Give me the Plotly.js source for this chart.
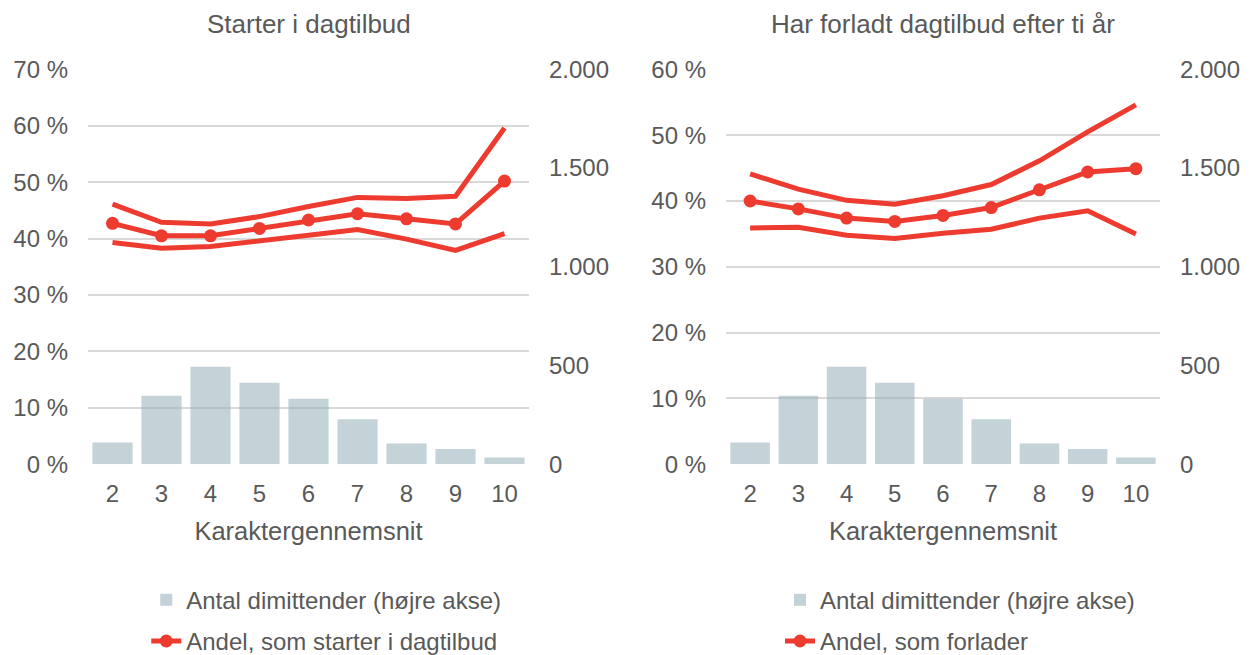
<!DOCTYPE html>
<html>
<head>
<meta charset="utf-8">
<script src="https://cdn.plot.ly/plotly-3.0.1.min.js"></script>
<style>html,body{margin:0;padding:0;background:#fff;}#chart{width:1250px;height:655px;}</style>
</head>
<body>
<div id="chart"></div>
<script>
// Data
const grades = [2, 3, 4, 5, 6, 7, 8, 9, 10];
const gradeLabels = ["2", "3", "4", "5", "6", "7", "8", "9", "10"];

// Left panel: Starter i dagtilbud (%)
const startMid   = [42.7, 40.5, 40.5, 41.8, 43.3, 44.4, 43.5, 42.6, 50.2];
const startUpper = [46.1, 42.9, 42.6, 43.9, 45.7, 47.3, 47.1, 47.5, 59.6];
const startLower = [39.3, 38.3, 38.6, 39.5, 40.6, 41.6, 39.9, 37.9, 40.9];
const startCount = [111, 347, 494, 413, 332, 228, 106, 77, 35];

// Right panel: Har forladt dagtilbud efter ti år (%)
const leaveMid   = [40.0, 38.8, 37.4, 36.9, 37.8, 39.0, 41.7, 44.4, 44.9];
const leaveUpper = [44.1, 41.8, 40.1, 39.5, 40.8, 42.5, 46.1, 50.5, 54.6];
const leaveLower = [35.9, 36.0, 34.8, 34.3, 35.1, 35.7, 37.4, 38.5, 35.0];
const leaveCount = [111, 347, 494, 413, 332, 228, 106, 77, 35];

const leftTickVals = [0, 10, 20, 30, 40, 50, 60, 70];
const leftTickText = ["0 %", "10 %", "20 %", "30 %", "40 %", "50 %", "60 %", "70 %"];
const rightTickVals = [0, 500, 1000, 1500, 2000];
const rightTickText = ["0", "500", "1.000", "1.500", "2.000"];

const RED = '#EE3B2F';
const BAR = 'rgb(150,176,186)';
const TXT = '#595959';
const FONT = 'Liberation Sans, Arial, sans-serif';

function panel(xa, ya, ya2, mid, up, lo, cnt, lineName, legendId) {
  return [
    {type: 'bar', x: grades, y: cnt, xaxis: xa, yaxis: ya2, name: 'Antal dimittender (højre akse)',
     marker: {color: BAR}, opacity: 0.56, legend: legendId, legendgroup: legendId + 'a', hoverinfo: 'y'},
    {type: 'scatter', mode: 'lines', x: grades, y: up, xaxis: xa, yaxis: ya, showlegend: false,
     line: {color: RED, width: 5}, hoverinfo: 'y'},
    {type: 'scatter', mode: 'lines', x: grades, y: lo, xaxis: xa, yaxis: ya, showlegend: false,
     line: {color: RED, width: 5}, hoverinfo: 'y'},
    {type: 'scatter', mode: 'lines+markers', x: grades, y: mid, xaxis: xa, yaxis: ya, name: lineName,
     line: {color: RED, width: 5}, marker: {color: RED, size: 13}, legend: legendId, legendgroup: legendId + 'b', hoverinfo: 'y'}
  ];
}

const data = [].concat(
  panel('x', 'y', 'y2', startMid, startUpper, startLower, startCount, 'Andel, som starter i dagtilbud', 'legend'),
  panel('x2', 'y3', 'y4', leaveMid, leaveUpper, leaveLower, leaveCount, 'Andel, som forlader', 'legend2')
);

const yDom = [0.2911, 0.8942];
const tickFont = {family: FONT, size: 24, color: TXT};

function xAxis(domain) {
  return {domain: domain, range: [1.5, 10.5], tickvals: grades, ticktext: gradeLabels,
    showgrid: false, zeroline: false, showline: false, ticks: '', tickfont: tickFont,
    ticklabelstandoff: 13, fixedrange: true, automargin: false,
    title: {text: 'Karaktergennemsnit', font: {family: FONT, size: 25.5, color: TXT}, standoff: 15}};
}
function yLeft(anchor, max) {
  const n = leftTickVals.filter(v => v <= max).length;
  return {domain: yDom, anchor: anchor, range: [0, max], tickmode: 'array',
    tickvals: leftTickVals.slice(0, n), ticktext: leftTickText.slice(0, n),
    showgrid: true, gridcolor: '#D9D9D9', gridwidth: 2, zeroline: false, showline: false,
    ticks: '', tickfont: tickFont, ticklabelstandoff: 19, fixedrange: true, automargin: false};
}
function yRight(anchor, over) {
  return {domain: yDom, anchor: anchor, overlaying: over, side: 'right', range: [0, 2000],
    tickmode: 'array', tickvals: rightTickVals, ticktext: rightTickText, showgrid: false, zeroline: false, showline: false,
    ticks: '', tickfont: tickFont, ticklabelstandoff: 19, fixedrange: true, automargin: false};
}

const legendBase = {orientation: 'v', traceorder: 'grouped', tracegroupgap: 7,
  font: {family: FONT, size: 24, color: TXT}, bgcolor: 'rgba(0,0,0,0)', yanchor: 'top', xanchor: 'left'};

const layout = {
  width: 1250, height: 655,
  margin: {l: 0, r: 0, t: 0, b: 0, autoexpand: false},
  paper_bgcolor: '#fff', plot_bgcolor: '#fff',
  separators: ',.',
  font: {family: FONT, color: TXT},
  bargap: 0.18,
  showlegend: true,
  xaxis: xAxis([0.0704, 0.4232]),
  yaxis: yLeft('x', 70),
  yaxis2: yRight('x', 'y'),
  xaxis2: xAxis([0.5808, 0.928]),
  yaxis3: yLeft('x2', 60),
  yaxis4: yRight('x2', 'y3'),
  legend: Object.assign({}, legendBase, {x: 0.117, y: 0.118}),
  legend2: Object.assign({}, legendBase, {x: 0.624, y: 0.118}),
  annotations: [
    {text: 'Starter i dagtilbud', xref: 'paper', yref: 'paper', x: 0.2468, y: 0.963, showarrow: false,
     xanchor: 'center', yanchor: 'middle', font: {family: FONT, size: 26, color: TXT}},
    {text: 'Har forladt dagtilbud efter ti år', xref: 'paper', yref: 'paper', x: 0.7544, y: 0.963, showarrow: false,
     xanchor: 'center', yanchor: 'middle', font: {family: FONT, size: 26, color: TXT}}
  ]
};

Plotly.newPlot('chart', data, layout, {displayModeBar: false, staticPlot: true});
</script>
</body>
</html>
